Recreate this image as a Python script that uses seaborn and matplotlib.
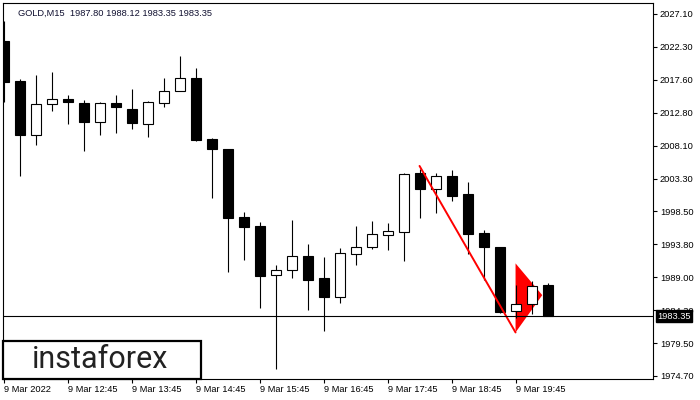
import numpy as np
import pandas as pd
import matplotlib
matplotlib.use("Agg")
import matplotlib.pyplot as plt
from matplotlib.patches import Rectangle
import matplotlib.transforms as mtransforms
import seaborn as sns

# GOLD M15 candles (index 0 = first bar on the left)
opens = [2023.2, 2017.4, 2009.6, 2014.0, 2014.8, 2014.2, 2011.5, 2014.2, 2013.4, 2011.2,
         2014.2, 2016.0, 2017.9, 2009.0, 2007.6, 1997.7, 1996.4, 1989.3, 1990.1, 1992.0,
         1988.9, 1986.2, 1992.3, 1993.3, 1995.15, 1995.5, 2004.1, 2001.7, 2003.6, 2001.0,
         1995.4, 1993.4, 1984.1, 1985.1, 1987.8]
highs = [2026.1, 2017.7, 2018.3, 2018.7, 2015.3, 2014.6, 2014.4, 2015.3, 2016.2, 2014.5,
         2017.8, 2021.0, 2019.3, 2009.2, 2007.6, 1998.4, 1997.0, 1990.7, 1997.3, 1993.8,
         1991.9, 1993.2, 1996.4, 1997.1, 1996.8, 2004.1, 2004.7, 2004.1, 2004.5, 2002.8,
         1995.8, 1993.4, 1987.8, 1988.45, 1988.12]
lows = [2014.3, 2003.7, 2008.1, 2013.1, 2011.1, 2007.3, 2009.6, 2009.8, 2010.5, 2009.3,
        2013.7, 2016.0, 2008.7, 2000.5, 1989.8, 1991.5, 1984.6, 1975.7, 1988.9, 1984.3,
        1981.25, 1985.3, 1990.8, 1993.1, 1993.0, 1991.4, 1997.6, 1998.3, 2000.0, 1992.4,
        1988.55, 1983.8, 1983.05, 1983.6, 1983.35]
closes = [2017.3, 2009.6, 2014.0, 2014.8, 2014.3, 2011.5, 2014.2, 2013.6, 2011.3, 2014.3,
          2016.0, 2017.9, 2008.8, 2007.5, 1997.6, 1996.3, 1989.2, 1990.1, 1992.0, 1988.6,
          1986.2, 1992.5, 1993.3, 1995.2, 1995.7, 2003.9, 2001.7, 2003.6, 2000.75, 1995.3,
          1993.3, 1984.0, 1985.1, 1987.7, 1983.35]

time_ticks = [0, 4, 8, 12, 16, 20, 24, 28, 32]
time_labels = ["9 Mar 2022", "9 Mar 12:45", "9 Mar 13:45", "9 Mar 14:45", "9 Mar 15:45",
               "9 Mar 16:45", "9 Mar 17:45", "9 Mar 18:45", "9 Mar 19:45"]
price_labels = ["1974.70", "1979.50", "1984.30", "1989.00", "1993.80", "1998.50",
                "2003.30", "2008.10", "2012.80", "2017.60", "2022.30", "2027.10"]
last_price = 1983.35
title = "GOLD,M15  1987.80 1988.12 1983.35 1983.35"

# pattern drawing (bearish pennant)
trend_x = [26, 32]
trend_y = [2005.1, 1981.0]
pennant_x = [32, 32, 33.67]
pennant_y = [1991.0, 1981.0, 1986.4]

df = pd.DataFrame({"open": opens, "high": highs, "low": lows, "close": closes})
df["idx"] = np.arange(len(df))
df["bottom"] = df[["open", "close"]].min(axis=1)
df["height"] = (df["close"] - df["open"]).abs()
df["color"] = np.where(df["close"] < df["open"], "black", "white")

sns.set_style("white")
plt.rcParams["font.family"] = ["Liberation Sans", "DejaVu Sans"]

fig = plt.figure(figsize=(7, 4), dpi=100)
ax = fig.add_axes([2.5 / 700, 21 / 400, 650.5 / 700, 376.5 / 400])

# pennant below the candles
ax.fill(pennant_x, pennant_y, color="red", lw=0, zorder=1)

ax.vlines(df["idx"], df["low"], df["high"], color="black", lw=0.8, zorder=2)
ax.bar(df["idx"], df["height"], bottom=df["bottom"], width=0.625,
       color=df["color"], edgecolor="black", linewidth=0.8, zorder=3)

sns.lineplot(x=trend_x, y=trend_y, color="red", lw=1.4, ax=ax, zorder=4)

ax.axhline(last_price, color="black", lw=0.8, zorder=5)

ax.set_xlim(-0.0625, 40.59)
ax.set_ylim(1974.26, 2028.76)

ax.set_xticks(time_ticks)
ax.set_xticklabels(time_labels, ha="left")
ax.set_yticks(np.linspace(1974.70, 2027.10, len(price_labels)))
ax.set_yticklabels(price_labels)
ax.yaxis.tick_right()
ax.tick_params(axis="x", bottom=True, length=3, width=0.8, pad=1.5,
               labelsize=6.7, colors="black")
ax.tick_params(axis="y", right=True, left=False, labelright=True, labelleft=False,
               length=3, width=0.8, pad=2, labelsize=6.7, colors="black")
for sp in ax.spines.values():
    sp.set_color("black")
    sp.set_linewidth(0.8)

ax.text(0.024, 0.97, title, transform=ax.transAxes, fontsize=6.7,
        color="#101030", va="center", ha="left")

# current price tag on the price scale
trans = mtransforms.blended_transform_factory(ax.transAxes, ax.transData)
ax.text(1.006, last_price, "1983.35", transform=trans, fontsize=6.7, color="white",
        va="center", ha="left", clip_on=False, zorder=10,
        bbox=dict(boxstyle="square,pad=0.15", fc="black", ec="black"))

# logo box
fig.add_artist(Rectangle((3 / 700, 21 / 400), 198 / 700, 38 / 400,
                         transform=fig.transFigure, fc="white", ec="black", lw=1.6))
fig.text(100 / 700, 40 / 400, "instaforex", fontsize=22, color="#222222",
         family="Roboto", ha="center", va="center")

plt.savefig("out.png", dpi=100)
